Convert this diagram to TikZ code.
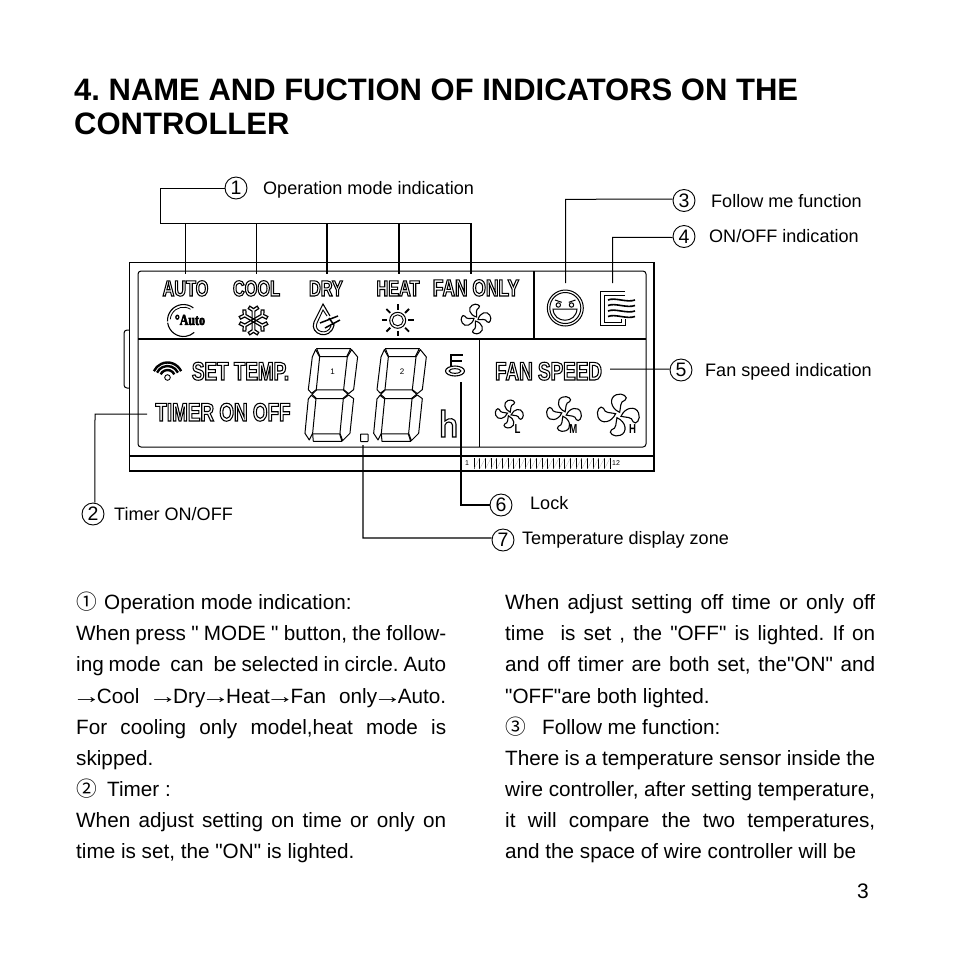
\documentclass[tikz,border=0pt]{standalone}
\usepackage{fontspec}
\usetikzlibrary{calc}
\setmainfont{Liberation Sans}
\newfontfamily\bodyf{Liberation Sans}
\newfontfamily\cjkf{Noto Sans CJK SC}
\newfontfamily\lcdfont[FakeStretch=0.74]{Liberation Sans Bold}
\newfontfamily\autofont{Liberation Serif Bold}
\newcommand\lcd[2][22]{\special{pdf:code 1 Tr 1.05 w}{\lcdfont\fontsize{#1}{#1}\selectfont #2}\special{pdf:code 0 Tr}}
\newcommand\arr{\makebox[20.7pt]{\scalebox{1.4}[1]{→}}}
\newcommand\fanicon[4]{% x y scale rot
 \begin{scope}[shift={(#1,#2)},scale=#3,rotate=#4,line width=1.1pt]
 \foreach \r in {0,90,180,270}{
  \draw[rotate=\r] (1,-2) .. controls (-6,-5) and (-7,-13) .. (-1.5,-15) .. controls (3,-17) and (8,-13) .. (5,-11) .. controls (1,-10) and (2,-6) .. (1,-2) -- cycle;
 }
 \end{scope}}
\newcommand\segdigit[1]{%
 \begin{scope}[xshift=#1pt,x=0.3333pt,y=-0.3333pt,shift={(360,765)},line width=1pt,line join=round,fill=white]
 \filldraw (590,281)--(692,281)--(680,305)--(600,305)--cycle;
 \filldraw (695,284)--(713,306)--(701,404)--(686,416)--(671,404)--(682,306)--cycle;
 \filldraw (587,284)--(599,306)--(589,404)--(575,415)--(565,404)--(577,306)--cycle;
 \filldraw (590,405)--(670,405)--(684,418)--(668,431)--(590,431)--(576,418)--cycle;
 \filldraw (574,421)--(588,432)--(578,535)--(568,555)--(555,535)--(565,432)--cycle;
 \filldraw (686,420)--(701,431)--(690,535)--(668,557)--(660,535)--(670,432)--cycle;
 \filldraw (578,537)--(659,537)--(666,559)--(580,559)--cycle;
 \end{scope}}
\tikzset{
 lead/.style={draw=black,line width=1pt},
 boldlead/.style={draw=black,line width=1.6pt},
 numcirc/.style={draw=black,circle,line width=0.9pt,minimum size=22pt,inner sep=0pt,font=\fontsize{19.5}{19}\selectfont},
 lbl/.style={anchor=base west,inner sep=0pt,font=\fontsize{18.05}{20}\selectfont},
 bodyline/.style={anchor=base west,inner sep=0pt,font=\bodyf\fontsize{20.7}{24}\selectfont},
 titleline/.style={anchor=base west,inner sep=0pt,font=\fontsize{31}{38}\selectfont\bfseries},
 lcdtext/.style={inner sep=0pt,anchor=base},
 frame/.style={draw=black,line width=1.7pt},
 fanlabel/.style={inner sep=0pt,font=\lcdfont\fontsize{13}{13}\selectfont},
}
\newcommand\jl[1]{\makebox[370pt][s]{#1}}
\frenchspacing
\begin{document}
\frenchspacing
\begin{tikzpicture}[x=1pt,y=-1pt]
\useasboundingbox (0,0) rectangle (954,954);
\fill[white] (0,0) rectangle (954,954);
% title
\node[titleline] (t1) at (74,100) {4. NAME AND FUCTION OF INDICATORS ON THE};
\node[titleline] (t2) at (74,134.5) {CONTROLLER};
% frame
\draw[frame] (129.5,262.5) rectangle (654,471);
\draw[frame] (129.5,456)--(654,456);
\draw[line width=1pt,rounded corners=3pt] (129.5,330)--(124,330)--(124,388)--(129.5,388);
\draw[line width=1pt,rounded corners=3pt] (138,271) rectangle (646,447);
\draw[frame] (138,339)--(646,339);
\draw[frame] (534,271)--(534,339);
\draw[frame] (479.5,339)--(479.5,447);
% scale
\foreach \i in {0,...,24}{\draw[line width=0.5pt] ({474+\i*5.67},458)--({474+\i*5.67},469);}
\foreach \i in {0,...,23}{\draw[gray!60,line width=0.3pt] ({474+\i*5.67},469)--({474+\i*5.67+5.67},458);}
\node[inner sep=0pt,font=\fontsize{7}{7}\selectfont] (s1) at (467,463.5) {1};
\node[inner sep=0pt,font=\fontsize{7}{7}\selectfont] (s12) at (616,463.5) {12};
% LCD labels
\node[lcdtext] (auto) at (185.5,296) {\lcd{AUTO}};
\node[lcdtext] (cool) at (256.5,296) {\lcd{COOL}};
\node[lcdtext] (dry) at (326,296) {\lcd{DRY}};
\node[lcdtext] (heat) at (398,296) {\lcd{HEAT}};
\node[lcdtext] (fanonly) at (476,296) {\lcd[23.5]{FAN ONLY}};
\node[lcdtext] (settemp) at (240.5,380) {\lcd[25.5]{SET TEMP.}};
\node[lcdtext] (timer) at (223,421) {\lcd[25.5]{TIMER ON OFF}};
\node[lcdtext] (fanspeed) at (548.5,380) {\lcd[25.5]{FAN SPEED}};
% auto icon
\coordinate (ac) at (183.5,320.5);
\draw[line width=1.1pt] ($(ac)+(-52:16)$) arc (-52:-183:16);
\draw[line width=1.1pt] ($(ac)+(172:16)$) arc (172:48:16);
\draw[line width=0.8pt] ($(ac)+(-58:13.3)$) arc (-58:-175:13.3);
\node[inner sep=0pt,font=\autofont\fontsize{12}{12}\selectfont] (autoic) at (190,320) {\scalebox{1}[1.25]{\special{pdf:code 2 Tr 0.5 w}°Auto\special{pdf:code 0 Tr}}};
% snow
\begin{scope}[shift={(253.5,320.5)},scale=1.25,line width=1.2pt]
\foreach \r in {0,60,120,180,240,300}{
 \begin{scope}[rotate=\r]
 \draw (-1.1,0)--(-1.1,-7.5)--(-4.2,-9.5)--(-3,-11.5)--(0,-9.5)--(3,-11.5)--(4.2,-9.5)--(1.1,-7.5)--(1.1,0);
 \end{scope}}
\end{scope}
% drop
\draw[line width=1.1pt] (330,316)--(323,304)--(314,322) .. controls (309,334) and (330,342) .. (334,325);
\draw[line width=0.9pt] (327,316)--(323,310)--(317,323) .. controls (313,332) and (328,336) .. (331,326);
\draw[line width=1.5pt] (320,323)--(338,316) (325,328)--(340,320) (329,318)--(334,325);
% sun
\begin{scope}[shift={(397.7,320.3)}]
\draw[line width=1pt] (0,0) circle (8);
\draw[line width=0.9pt] (0,0) circle (5.5);
\foreach \r in {0,45,...,315}{\draw[line width=1.8pt,rotate=\r] (10.5,0)--(16,0);}
\end{scope}
% fan
\fanicon{476}{319}{0.95}{10}
% smile
\draw[line width=1pt] (565.3,308) circle (18);
\draw[line width=1pt] (565.3,308) circle (15.5);
\draw[line width=1pt] (553,309) -- (577,309) .. controls (576,324) and (554,324) .. cycle;
\draw[line width=1pt] (558.3,305) circle (2.2) (571.5,305) circle (2.2);
\draw[line width=1pt] (555,300)--(561.7,302.3) (575.5,300)--(568.8,302.3);
% wave icon
\draw[line width=1pt] (625,291.7)--(600.7,291.7)--(600.7,325.7)--(625,325.7)--(625,319);
\draw[line width=1pt] (625,295)--(604.5,295)--(604.5,322)--(621.5,322)--(621.5,319);
\foreach \y in {300,305.5,311,316.5}{\draw[line width=1.6pt] (608,\y) .. controls (615,{\y-3}) and (627,{\y+3}) .. (635,\y);}
% wifi
\coordinate (wc) at (167.5,377.5);
\draw[line width=0.9pt] (wc) circle (2.8);
\foreach \r in {7.5,11.5,15}{\draw[line width=2.4pt] ($(wc)+(-25:\r)$) arc (-25:-155:\r);}
% digits
\segdigit{0}
\segdigit{68.7}
\node[inner sep=0pt,font=\fontsize{8}{9}\selectfont] (d1) at (332.7,372) {1};
\node[inner sep=0pt,font=\fontsize{8}{9}\selectfont] (d2) at (402,372) {2};
\draw[line width=1pt,rounded corners=0.5pt] (360.5,434) rectangle (368,441.5);
% key
\draw[line width=2.2pt] (451,366)--(451,355)--(463,355) (451,361)--(462,361);
\draw[line width=1.1pt] (455,371) ellipse (9.5 and 5);
\draw[line width=1pt] (455,371) ellipse (6 and 2.3);
% h
\draw[line width=1.1pt] (441.5,410)--(445,410)--(445,421) .. controls (449,417) and (456,418) .. (456,424)--(456,437)--(452.5,437)--(452.5,425) .. controls (452,421) and (446,421) .. (445,425)--(445,437)--(441.5,437)--cycle;
% fans
\fanicon{509.3}{414}{0.9}{0}
\fanicon{564}{414}{1.12}{0}
\fanicon{618.3}{415}{1.35}{0}
\node[fanlabel] (fl) at (517.5,429) {L};
\node[fanlabel] (fm) at (573.3,429) {M};
\node[fanlabel] (fh) at (632.7,429) {H};
% circles and labels
\node[numcirc] (c1) at (236,188) {1};
\node[numcirc] (c2) at (93,514) {2};
\node[numcirc] (c3) at (684,200.5) {3};
\node[numcirc] (c4) at (684,236.5) {4};
\node[numcirc] (c5) at (681,370) {5};
\node[numcirc] (c6) at (501,505) {6};
\node[numcirc] (c7) at (503,540) {7};
\node[lbl] (l1) at (263,194) {Operation mode indication};
\node[lbl] (l3) at (711,207) {Follow me function};
\node[lbl] (l4) at (709,242) {ON/OFF indication};
\node[lbl] (l5) at (705,376) {Fan speed indication};
\node[lbl] (l6) at (530,509) {Lock};
\node[lbl] (l7) at (522,544) {Temperature display zone};
\node[lbl] (l2) at (114,520) {Timer ON/OFF};
% connectors
\coordinate (e1) at (185.7,274);\coordinate (e2) at (256.7,274);\coordinate (e3) at (326.7,274);\coordinate (e4) at (399,274);\coordinate (e5) at (471,274);
\draw[lead] (c1.west)--(160.7,188)--(160.7,223.3);
\draw[boldlead] (160,223.3)--(471.8,223.3);
\draw[lead] (185.7,223.3)--(e1);
\draw[lead] (256.7,223.3)--(e2);
\draw[boldlead] (326.7,223.3)--(e3);
\draw[boldlead] (399,223.3)--(e4);
\draw[boldlead] (471,223.3)--(e5);
\coordinate (e6) at (565.7,283);\coordinate (e7) at (612.7,283);
\coordinate (e8) at (610,369);\coordinate (e9) at (461,382);\coordinate (e10) at (363,445);\coordinate (e11) at (147,414);
\draw[lead] (c3.173)--(565.7,199.3)--(e6);
\draw[lead] (c4.185)--(612.7,237.3)--(e7);
\draw[lead] (c5.175)--(e8);
\draw[boldlead] (c6.west)--(461,505)--(e9);
\draw[lead,line width=1.3pt] (c7.170)--(363,538)--(e10);
\draw[lead] (c2.80)--(95,414)--(e11);
% body left
\node[bodyline] (a1) at (76,609.3) {\makebox[28pt][l]{\cjkf ①}Operation mode indication:};
\node[bodyline] (a2) at (76,640.3) {\jl{When press " MODE " button, the follow-}};
\node[bodyline] (a3) at (76,671.5) {\jl{ing mode\ \ can\ \ be selected in circle. Auto}};
\node[bodyline] (a4) at (76,703) {\jl{\arr Cool\ \ \arr Dry\arr Heat\arr Fan\ \ only\arr Auto.}};
\node[bodyline] (a5) at (76,734.2) {\jl{For cooling only model,heat mode is}};
\node[bodyline] (a6) at (76,765.3) {skipped.};
\node[bodyline] (a7) at (76,796.3) {\makebox[31pt][l]{\cjkf ②}Timer :};
\node[bodyline] (a8) at (76,827.5) {\jl{When adjust setting on time or only on}};
\node[bodyline] (a9) at (76,858.6) {time is set, the "ON" is lighted.};
% body right
\node[bodyline] (b1) at (505,609.3) {\jl{When adjust setting off time or only off}};
\node[bodyline] (b2) at (505,640.3) {\jl{time\ \ is set , the "OFF" is lighted. If on}};
\node[bodyline] (b3) at (505,671.5) {\jl{and off timer are both set, the"ON" and}};
\node[bodyline] (b4) at (505,703) {"OFF"are both lighted.};
\node[bodyline] (b5) at (505,734.2) {\makebox[37pt][l]{\cjkf ③}Follow me function:};
\node[bodyline] (b6) at (505,765.3) {\jl{There is a temperature sensor inside the}};
\node[bodyline] (b7) at (505,796.3) {\jl{wire controller, after setting temperature,}};
\node[bodyline] (b8) at (505,827.5) {\jl{it will compare the two temperatures,}};
\node[bodyline] (b9) at (505,858.6) {and the space of wire controller will be};
\node[anchor=base,inner sep=0pt,font=\fontsize{21}{24}\selectfont] (pg) at (863,898) {3};
\end{tikzpicture}
\end{document}
